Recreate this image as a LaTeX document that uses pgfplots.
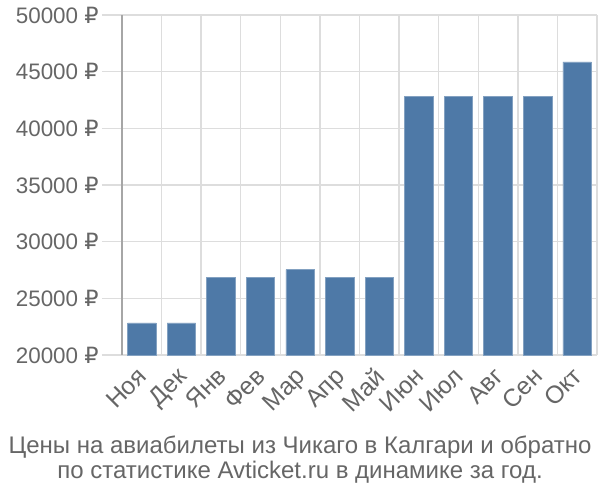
\documentclass[border=0pt]{standalone}
\usepackage{pgfplots}
\pgfplotsset{compat=1.18}
\usepackage{fontspec}
\setmainfont{Liberation Sans}
\newfontfamily\rubfont{DejaVu Sans}
\definecolor{barc}{HTML}{4E79A7}
\definecolor{gridc}{HTML}{DDDDDD}
\definecolor{txt}{HTML}{666666}
\begin{document}
\begin{tikzpicture}[x=1pt,y=1pt]
\useasboundingbox (0,0) rectangle (450,375);
\begin{axis}[
  scale only axis,
  width=356.25pt, height=255pt,
  at={(91.5pt,108.75pt)}, anchor=south west,
  xmin=-0.5, xmax=11.5, ymin=20000, ymax=50000,
  xtick={0,...,11},
  xticklabels={Ноя,Дек,Янв,Фев,Мар,Апр,Май,Июн,Июл,Авг,Сен,Окт},
  extra x ticks={-0.5,0.5,1.5,2.5,3.5,4.5,5.5,6.5,7.5,8.5,9.5,10.5,11.5},
  extra x tick labels={},
  extra x tick style={grid=major, major grid style={gridc, line width=1.1pt}, major tick length=13pt, tick style={gridc, line width=1.1pt}},
  ytick={20000,25000,30000,35000,40000,45000,50000},
  scaled y ticks=false,
  yticklabels={20000~{\rubfont ₽},25000~{\rubfont ₽},30000~{\rubfont ₽},35000~{\rubfont ₽},40000~{\rubfont ₽},45000~{\rubfont ₽},50000~{\rubfont ₽}},
  ymajorgrids,
  grid style={gridc, line width=1.1pt},
  tick align=outside,
  major x tick style={draw=none},
  major tick length=15pt,
  y tick style={gridc, line width=1.1pt},
  axis line style={draw=none},
  axis x line*=bottom, axis y line*=left,
  ticklabel style={font=\fontsize{16.8}{18}\selectfont, text=txt},
  xticklabel style={rotate=45, anchor=north east, inner sep=1pt, yshift=9pt, xshift=3pt, font=\fontsize{18.5}{19}\selectfont},
  yticklabel style={xshift=1pt},
  clip=false,
]
\addplot[ybar, bar width=0.72, fill=barc, draw=barc!70!white, line width=0.5pt]
coordinates {(0,22830) (1,22830) (2,26830) (3,26830) (4,27540) (5,26830) (6,26830) (7,42840) (8,42840) (9,42840) (10,42840) (11,45860)};
\draw[color=black!35, line width=1.3pt] (axis cs:-0.5,20000) -- (axis cs:-0.5,50000);
\end{axis}
\node[text=txt, align=center, font=\fontsize{18}{18.8}\selectfont] at (225,30.4) {Цены на авиабилеты из Чикаго в Калгари и обратно\\по статистике Avticket.ru в динамике за год.};
\end{tikzpicture}
\end{document}
